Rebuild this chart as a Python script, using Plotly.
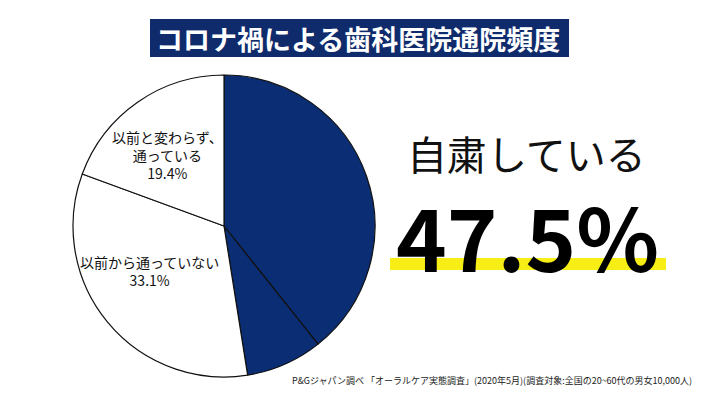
import plotly.graph_objects as go

# Data
categories = ["自粛している(通院控え)", "自粛している(その他)", "以前から通っていない", "以前と変わらず、通っている"]
values = [39.3, 8.2, 33.1, 19.4]
slice_colors = ["#0b2d74", "#0b2d74", "#ffffff", "#ffffff"]
label_texts = ["以前から通っていない<br>33.1%", "以前と変わらず、<br>通っている<br>19.4%"]
headline_label = "自粛している"
headline_value = "47.5%"
title_text = "コロナ禍による歯科医院通院頻度"
source_text = "P&Gジャパン調べ 「オーラルケア実態調査」(2020年5月)(調査対象:全国の20~60代の男女10,000人)"

W, H = 720, 405
def px(x):
    return x / W
def py(y):
    return 1 - y / H

FONT = "Noto Sans CJK JP"

cx, cy, r = 224, 226, 151

fig = go.Figure()
fig.add_trace(go.Pie(
    labels=categories,
    values=values,
    sort=False,
    direction="clockwise",
    rotation=0,
    marker=dict(colors=slice_colors, line=dict(color="#111111", width=1.2)),
    textinfo="none",
    hoverinfo="label+percent",
    showlegend=False,
    domain=dict(x=[px(cx - r), px(cx + r)], y=[py(cy + r), py(cy - r)]),
))

shapes = [
    dict(type="rect", xref="paper", yref="paper",
         x0=px(150), x1=px(569), y0=py(57), y1=py(19),
         fillcolor="#0f2b6c", line=dict(width=0), layer="below"),
    dict(type="rect", xref="paper", yref="paper",
         x0=px(390), x1=px(666), y0=py(270), y1=py(258),
         fillcolor="#f6ee14", line=dict(width=0), layer="below"),
]

annotations = [
    dict(text=title_text, x=px(358), y=py(38), xref="paper", yref="paper",
         showarrow=False, xanchor="center", yanchor="middle",
         font=dict(family=FONT, size=27, color="white", weight="bold")),
    dict(text=headline_label, x=px(526), y=py(153), xref="paper", yref="paper",
         showarrow=False, xanchor="center", yanchor="middle",
         font=dict(family=FONT, size=40, color="#111111")),
    dict(text=headline_value, x=px(527), y=py(234), xref="paper", yref="paper",
         showarrow=False, xanchor="center", yanchor="middle", height=96,
         font=dict(family=FONT, size=86, color="#000000", weight="bold")),
    dict(text=label_texts[1], x=px(167), y=py(155), xref="paper", yref="paper",
         showarrow=False, xanchor="center", yanchor="middle", align="center",
         font=dict(family=FONT, size=14, color="#111111")),
    dict(text=label_texts[0], x=px(149), y=py(271), xref="paper", yref="paper",
         showarrow=False, xanchor="center", yanchor="middle", align="center",
         font=dict(family=FONT, size=14, color="#111111")),
    dict(text=source_text, x=px(694), y=py(380), xref="paper", yref="paper",
         showarrow=False, xanchor="right", yanchor="middle",
         font=dict(family=FONT, size=9, color="#222222")),
]

fig.update_layout(
    width=W, height=H,
    margin=dict(l=0, r=0, t=0, b=0),
    paper_bgcolor="white", plot_bgcolor="white",
    shapes=shapes, annotations=annotations,
)

fig.write_html("out.html", config={"displayModeBar": False},
               post_script="document.body.style.margin='0';")
